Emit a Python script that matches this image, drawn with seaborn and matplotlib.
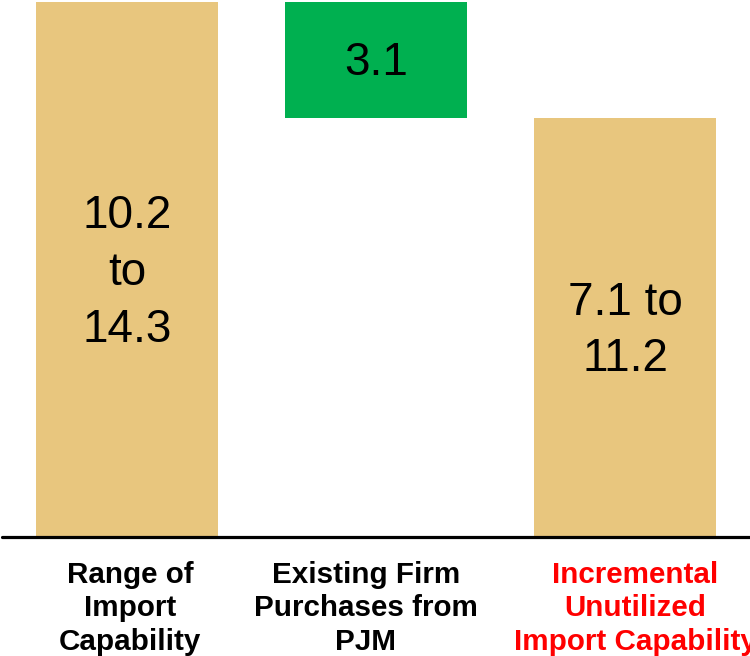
import matplotlib
matplotlib.use("Agg")
import matplotlib.pyplot as plt
import matplotlib.transforms as mtransforms
import seaborn as sns
import pandas as pd

categories = ["Range of\nImport\nCapability",
              "Existing Firm\nPurchases from\nPJM",
              "Incremental\nUnutilized\nImport Capability"]
bar_top = [14.3, 14.3, 11.2]
bar_base = [0.0, 11.2, 0.0]
value_labels = ["10.2\nto\n14.3", "3.1", "7.1 to\n11.2"]
bar_colors = ["#E8C67E", "#00B050", "#E8C67E"]
label_colors = ["black", "black", "#FF0000"]
label_dx_pt = [2.2, -7.2, 7.2]

sns.set_style("white")
plt.rcParams["font.family"] = ["Liberation Sans", "DejaVu Sans"]

df = pd.DataFrame({"cat": categories, "top": bar_top, "base": bar_base})

fig = plt.figure(figsize=(7.5, 6.56), dpi=100)
ax = fig.add_axes([0, 0.1814, 1, 0.8156])

sns.barplot(data=df, x="cat", y="top", hue="cat", palette=bar_colors,
            legend=False, width=0.731, linewidth=0, saturation=1, ax=ax)
sns.barplot(data=df, x="cat", y="base", color="white",
            width=0.74, linewidth=0, saturation=1, ax=ax)

for i, (lab, lo, hi) in enumerate(zip(value_labels, bar_base, bar_top)):
    tr = mtransforms.offset_copy(ax.transData, fig, x=0, y=-2.5, units="points")
    ax.text(i, (lo + hi) / 2, lab, ha="center", va="center", transform=tr,
            fontsize=33, color="black", linespacing=1.37, zorder=5)

ax.set_xlim(-0.51, 2.502)
ax.set_ylim(0, 14.3)
ax.axhline(0, xmin=0.003, xmax=1, color="black", lw=2.3, zorder=10, clip_on=False)

for s in ax.spines.values():
    s.set_visible(False)
ax.set_yticks([])
ax.set_xticks([])
ax.set_xlabel("")
ax.set_ylabel("")

for i, (lab, col, dx) in enumerate(zip(categories, label_colors, label_dx_pt)):
    tr = mtransforms.offset_copy(ax.get_xaxis_transform(), fig, x=dx, y=-17,
                                 units="points")
    ax.text(i, 0, lab, ha="center", va="top", multialignment="center",
            transform=tr, fontsize=21.3, fontweight="bold", color=col,
            linespacing=1.26, clip_on=False)

fig.savefig("out.png", dpi=100)
